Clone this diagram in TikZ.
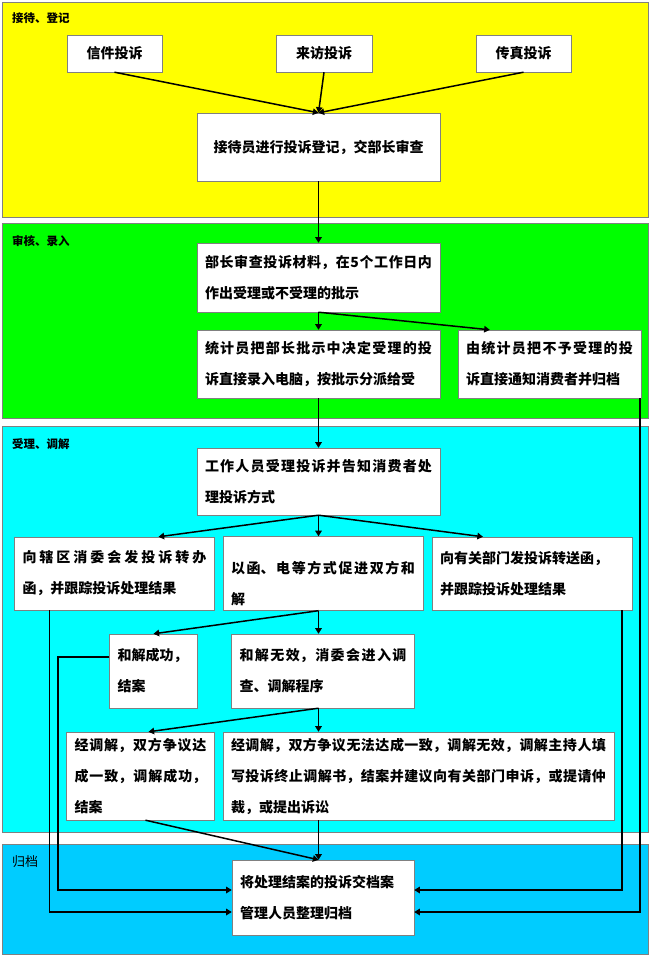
\documentclass[tikz,border=0pt]{standalone}
\usepackage{fontspec}
\newfontfamily\cjk{Noto Sans CJK SC}
\usepackage{tikz}
\usetikzlibrary{positioning,shapes,arrows,arrows.meta}
\XeTeXlinebreaklocale "zh"
\XeTeXlinebreakskip=0pt plus 3pt
\definecolor{stageone}{HTML}{FFFF00}
\definecolor{stagetwo}{HTML}{00FF00}
\definecolor{stagethree}{HTML}{00FFFF}
\definecolor{stagefour}{HTML}{00CCFF}

\begin{document}
\begin{tikzpicture}
            [x=1pt,y=-1pt,auto=left,every node/.style={draw=gray, fill=white, inner xsep=8pt, inner ysep=3pt, align=justify, font=\cjk\bfseries\fontsize{14}{31}\selectfont},
             stage/.style={draw=gray, line width=0.8pt},
             title/.style={draw=none, fill=none, anchor=west, inner sep=0pt, font=\cjk\bfseries\fontsize{11.5}{13}\selectfont},
             flow/.style={line width=1.5pt, -{Triangle[angle=60:6.5pt]}}]

            \useasboundingbox (0,0) rectangle (650,956);

            % stages
            \path[stage, fill=stageone] (2,2) rectangle (648,217);
            \path[stage, fill=stagetwo] (2,223) rectangle (648,418);
            \path[stage, fill=stagethree] (2,426) rectangle (648,832);
            \path[stage, fill=stagefour] (2,844) rectangle (648,954);

            \node[title] (t1) at (12,18) {接待、登记};
            \node[title] (t2) at (12,241) {审核、录入};
            \node[title] (t3) at (12,444) {受理、调解};
            \node[title, font=\cjk\fontsize{13}{15}\selectfont] (t4) at (12,862) {归档};

            % boxes
            \node[align=center, minimum width=95, minimum height=37] (xin) at (114.5,53.5) {信件投诉};
            \node[align=center, minimum width=96, minimum height=37] (lai) at (324,53.5) {来访投诉};
            \node[align=center, minimum width=95, minimum height=37] (chuan) at (523.5,53.5) {传真投诉};
            \node[align=center, minimum width=243, minimum height=68] (jie) at (318.5,147) {接待员进行投诉登记，交部长审查};

            \node[text width=227, minimum height=69] (bu) at (318.5,277.5)
              {部长审查投诉材料，在5个工作日内\linebreak 作出受理或不受理的批示};
            \node[text width=227, minimum height=68] (tong) at (318.5,364)
              {统计员把部长批示中决定受理的投\linebreak 诉直接录入电脑，按批示分派给受};
            \node[text width=167, minimum height=68] (you) at (549.5,364)
              {由统计员把不予受理的投\linebreak 诉直接通知消费者并归档};

            \node[text width=227, minimum height=67] (gong) at (318.5,481.5)
              {工作人员受理投诉并告知消费者处\linebreak 理投诉方式};
            \node[text width=184, minimum height=73] (xiang) at (114.5,573.5)
              {向辖区消委会发投诉转办\linebreak 函，并跟踪投诉处理结果};
            \node[text width=184, minimum height=74] (yi) at (323,573.5)
              {\mbox{}\\[2pt] 以函、电等方式促进双方和\linebreak 解};
            \node[text width=184, minimum height=73] (bumen) at (532,573.5)
              {向有关部门发投诉转送函，\\ 并跟踪投诉处理结果};
            \node[text width=72, minimum height=74] (cheng) at (153.5,671)
              {和解成功，\\ 结案};
            \node[text width=167, minimum height=74] (wuxiao) at (323,671)
              {和解无效，消委会进入调\linebreak 查、调解程序};
            \node[text width=132, minimum height=88] (jl) at (140.5,776)
              {经调解，双方争议达\linebreak 成一致，调解成功，\linebreak 结案};
            \node[text width=375, minimum height=88] (jr) at (418.5,776)
              {经调解，双方争议无法达成一致，调解无效，调解主持人填\linebreak 写投诉终止调解书，结案并建议向有关部门申诉，或提请仲\linebreak 裁，或提出诉讼};
            \node[text width=166, minimum height=75] (gui) at (323,897.5)
              {将处理结案的投诉交档案\\ 管理人员整理归档};

            \path (xin.south) edge[flow] (jie.north)
              (lai.south) edge[flow] (jie.north)
              (chuan.south) edge[flow] (jie.north)
              (jie.south) edge[flow] (bu.north)
              (bu.south) edge[flow] (tong.north)
              (bu.south) edge[flow] ([xshift=32pt]you.north west)
              (tong.south) edge[flow] (gong.north)
              (gong.south) edge[flow] ([xshift=44pt]xiang.north)
              (gong.south) edge[flow] (gong.south |- yi.north)
              (gong.south) edge[flow] ([xshift=-49pt]bumen.north)
              (gong.south |- yi.south) edge[flow] (cheng.north)
              (gong.south |- yi.south) edge[flow] (gong.south |- wuxiao.north)
              (gong.south |- wuxiao.south) edge[flow] ([xshift=8pt]jl.north)
              (gong.south |- wuxiao.south) edge[flow] (gong.south |- jr.north)
              ([xshift=5pt]jl.south) edge[flow] (gong.south |- gui.north)
              (gong.south |- jr.south) edge[flow] (gong.south |- gui.north);

            % returns to the archive
            \coordinate (kink) at (58,657);
            \draw[flow] ([xshift=-65pt]xiang.south) |- ([yshift=-14.5pt]gui.west);
            \draw[flow] (cheng.west |- kink) -- (kink) |- ([yshift=7.5pt]gui.west);
            \draw[flow] ([xshift=90pt]bumen.south) |- ([yshift=7.5pt]gui.east);
            \draw[flow] ([xshift=90.5pt]you.south) |- ([yshift=-14.5pt]gui.east);
        \end{tikzpicture}
\end{document}
